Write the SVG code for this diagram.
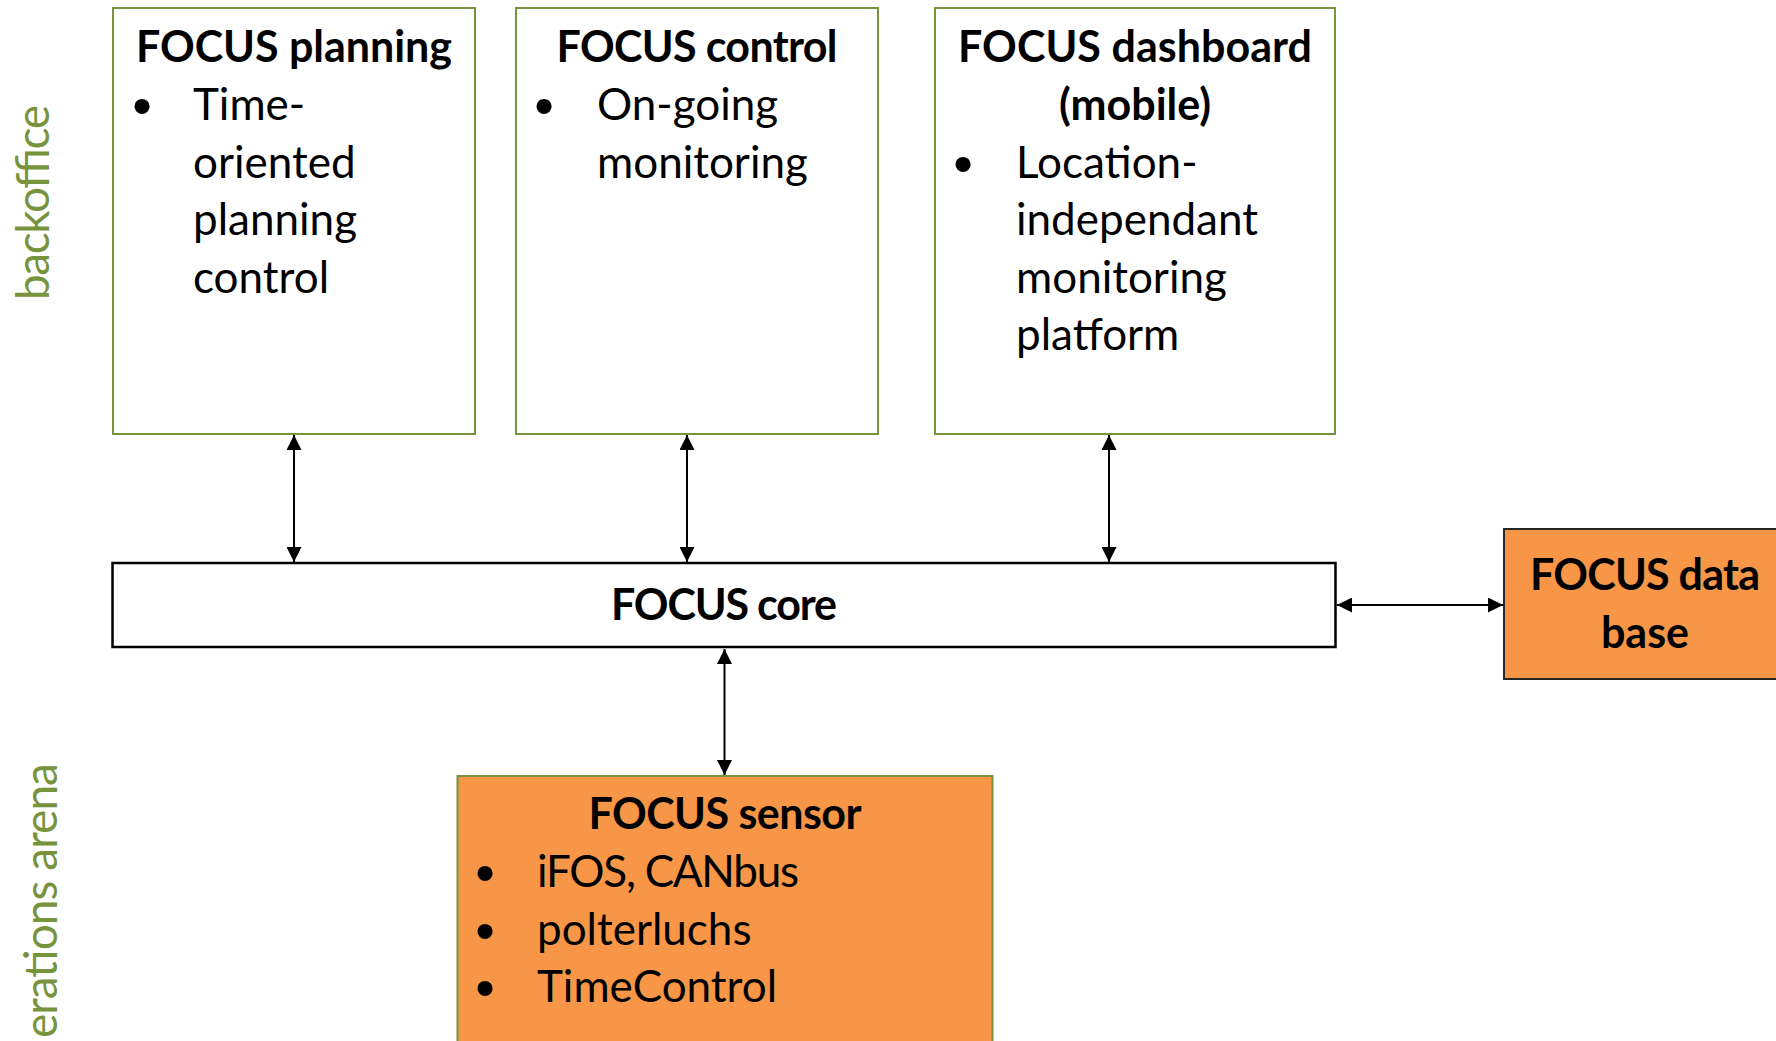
<svg xmlns="http://www.w3.org/2000/svg" width="1776" height="1041" viewBox="0 0 1776 1041">
  <style>
    .box { fill: #ffffff; stroke: #77933c; stroke-width: 2; }
    .core { fill: #ffffff; stroke: #000000; stroke-width: 2.5; }
    .orange { fill: #f79646; stroke: #77933c; stroke-width: 2; }
    .orange-dark { fill: #f79646; stroke: #262626; stroke-width: 2; }
    .title { font-family: Lato, "Open Sans", sans-serif; font-weight: 700; font-size: 43px; fill: #000000; text-anchor: middle; }
    .body { font-family: Lato, "Open Sans", sans-serif; font-size: 44px; fill: #000000; }
    .bullet { font-family: "Liberation Sans", Arial, sans-serif; font-size: 56px; fill: #000000; text-anchor: middle; }
    .zone { font-family: Lato, "Open Sans", sans-serif; font-weight: 400; font-size: 46px; fill: #77933c; text-anchor: middle; }
    .link { stroke: #000000; stroke-width: 2; fill: none; marker-start: url(#head); marker-end: url(#head); }
  </style>
  <defs>
    <marker id="head" markerUnits="userSpaceOnUse" markerWidth="16" markerHeight="15" refX="15" refY="7.5" orient="auto-start-reverse">
      <path d="M0,0 L15,7.5 L0,15 Z" fill="#000000"/>
    </marker>
  </defs>

  <rect width="1776" height="1041" fill="#ffffff"/>

  <!-- zone labels -->
  <g id="zone-backoffice">
    <text class="zone" transform="translate(49,202.5) rotate(-90)" textLength="195">backoffice</text>
  </g>
  <g id="zone-operations">
    <text class="zone" transform="translate(57,900.5) rotate(-90)" textLength="275">erations arena</text>
  </g>

  <!-- connectors -->
  <g id="connectors">
    <line class="link" x1="294" y1="435" x2="294" y2="562"/>
    <line class="link" x1="687" y1="435" x2="687" y2="562"/>
    <line class="link" x1="1109" y1="435" x2="1109" y2="562"/>
    <line class="link" x1="724.5" y1="649" x2="724.5" y2="775"/>
    <line class="link" x1="1337" y1="605" x2="1503" y2="605"/>
  </g>

  <g id="focus-planning">
    <rect class="box" x="113" y="8" width="362" height="426"/>
    <text class="title" x="294" y="62" textLength="316">FOCUS planning</text>
    <text class="bullet" x="142" y="125">•</text>
    <text class="body" x="193" y="120">Time-</text>
    <text class="body" x="193" y="177.5">oriented</text>
    <text class="body" x="193" y="235">planning</text>
    <text class="body" x="193" y="292.5">control</text>
  </g>

  <g id="focus-control">
    <rect class="box" x="516" y="8" width="362" height="426"/>
    <text class="title" x="697" y="62" textLength="281">FOCUS control</text>
    <text class="bullet" x="544" y="125">•</text>
    <text class="body" x="597" y="120">On-going</text>
    <text class="body" x="597" y="177.5">monitoring</text>
  </g>

  <g id="focus-dashboard">
    <rect class="box" x="935" y="8" width="400" height="426"/>
    <text class="title" x="1135" y="62" textLength="354">FOCUS dashboard</text>
    <text class="title" x="1135" y="120">(mobile)</text>
    <text class="bullet" x="963" y="182.5">•</text>
    <text class="body" x="1016" y="177.5">Location-</text>
    <text class="body" x="1016" y="235">independant</text>
    <text class="body" x="1016" y="292.5">monitoring</text>
    <text class="body" x="1016" y="350">platform</text>
  </g>

  <g id="focus-core">
    <rect class="core" x="112.5" y="563" width="1223" height="84"/>
    <text class="title" x="724" y="620" textLength="226">FOCUS core</text>
  </g>

  <g id="focus-database">
    <rect class="orange-dark" x="1504" y="529" width="290" height="150"/>
    <text class="title" x="1645" y="590" textLength="230">FOCUS data</text>
    <text class="title" x="1645" y="648">base</text>
  </g>

  <g id="focus-sensor">
    <rect class="orange" x="457.5" y="776" width="535" height="300"/>
    <text class="title" x="725" y="829" textLength="273">FOCUS sensor</text>
    <text class="bullet" x="485" y="892">•</text>
    <text class="body" x="537" y="887" textLength="262">iFOS, CANbus</text>
    <text class="bullet" x="485" y="949.5">•</text>
    <text class="body" x="537" y="944.5">polterluchs</text>
    <text class="bullet" x="485" y="1007">•</text>
    <text class="body" x="537" y="1002">TimeControl</text>
  </g>
</svg>
